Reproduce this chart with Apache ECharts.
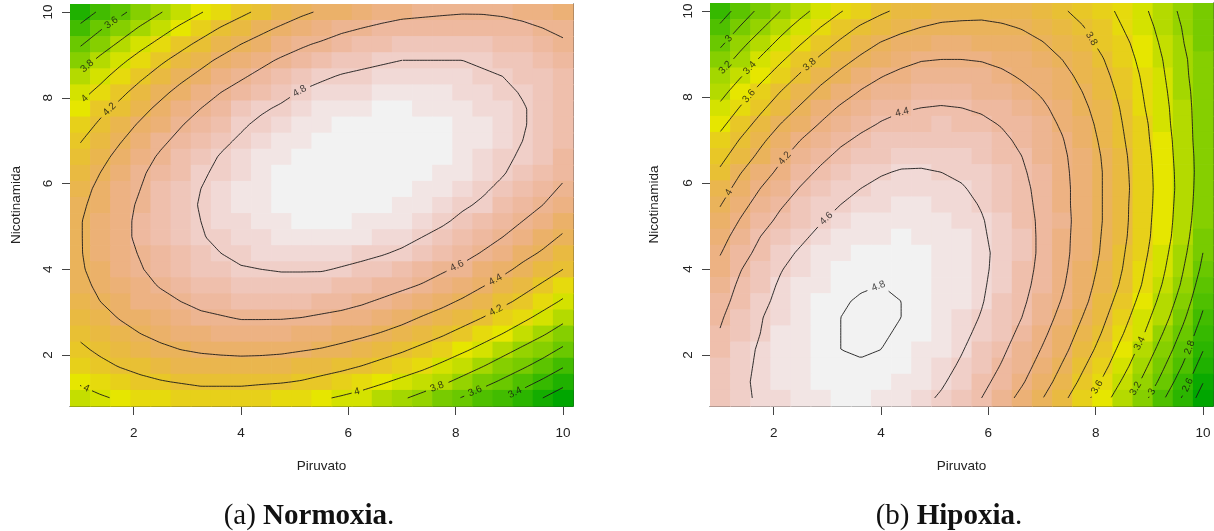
<!DOCTYPE html>
<html><head><meta charset="utf-8">
<script src="https://cdn.jsdelivr.net/npm/echarts@6/dist/echarts.min.js"></script>
<style>html,body{margin:0;padding:0;background:#fff;}#c{width:1214px;height:531px;}</style>
</head><body><div id="c"></div>
<script>
// ---------------- data ----------------
const piruvatoGrid = [1,1.375,1.75,2.125,2.5,2.875,3.25,3.625,4,4.375,4.75,5.125,5.5,5.875,6.25,6.625,7,7.375,7.75,8.125,8.5,8.875,9.25,9.625,10];
const nicotinamidaGrid = [10,9.625,9.25,8.875,8.5,8.125,7.75,7.375,7,6.625,6.25,5.875,5.5,5.125,4.75,4.375,4,3.625,3.25,2.875,2.5,2.125,1.75,1.375,1];
const axisTicks = [2,4,6,8,10];
// (a) Normoxia — one row per Nicotinamida value (top row = 10), one column per Piruvato value
const normoxiaRows = [
[3.29,3.43,3.56,3.68,3.79,3.90,3.99,4.08,4.16,4.24,4.31,4.37,4.42,4.46,4.50,4.53,4.56,4.57,4.58,4.59,4.59,4.58,4.56,4.54,4.51],
[3.44,3.58,3.70,3.82,3.93,4.03,4.12,4.21,4.29,4.36,4.42,4.48,4.52,4.57,4.60,4.63,4.65,4.66,4.67,4.67,4.66,4.65,4.63,4.60,4.57],
[3.58,3.71,3.83,3.95,4.05,4.15,4.24,4.32,4.40,4.46,4.52,4.58,4.62,4.66,4.69,4.71,4.73,4.74,4.74,4.74,4.73,4.71,4.69,4.66,4.62],
[3.71,3.84,3.96,4.07,4.17,4.26,4.35,4.43,4.50,4.56,4.62,4.66,4.70,4.74,4.76,4.78,4.80,4.80,4.80,4.80,4.78,4.76,4.73,4.70,4.66],
[3.83,3.95,4.07,4.17,4.27,4.36,4.44,4.52,4.58,4.64,4.70,4.74,4.78,4.81,4.83,4.85,4.86,4.86,4.85,4.84,4.82,4.80,4.77,4.73,4.69],
[3.94,4.05,4.16,4.27,4.36,4.45,4.53,4.60,4.66,4.72,4.76,4.81,4.84,4.86,4.88,4.90,4.90,4.90,4.89,4.88,4.86,4.83,4.79,4.75,4.71],
[4.03,4.15,4.25,4.35,4.44,4.52,4.60,4.67,4.73,4.78,4.82,4.86,4.89,4.91,4.93,4.94,4.94,4.93,4.92,4.90,4.88,4.84,4.81,4.76,4.71],
[4.11,4.23,4.33,4.42,4.51,4.59,4.66,4.72,4.78,4.83,4.87,4.90,4.93,4.95,4.96,4.96,4.96,4.95,4.94,4.92,4.89,4.85,4.81,4.76,4.71],
[4.19,4.29,4.39,4.48,4.57,4.64,4.71,4.77,4.82,4.87,4.90,4.93,4.96,4.97,4.98,4.98,4.98,4.96,4.94,4.92,4.89,4.85,4.80,4.75,4.69],
[4.25,4.35,4.45,4.54,4.62,4.69,4.75,4.81,4.86,4.90,4.93,4.96,4.97,4.99,4.99,4.99,4.98,4.96,4.94,4.91,4.87,4.83,4.78,4.73,4.67],
[4.30,4.40,4.49,4.58,4.65,4.72,4.78,4.83,4.88,4.91,4.94,4.97,4.98,4.99,4.99,4.98,4.97,4.95,4.92,4.89,4.85,4.81,4.75,4.69,4.63],
[4.34,4.44,4.52,4.60,4.68,4.74,4.80,4.85,4.89,4.92,4.95,4.97,4.98,4.98,4.98,4.97,4.95,4.93,4.90,4.86,4.82,4.77,4.71,4.65,4.58],
[4.37,4.46,4.55,4.62,4.69,4.75,4.81,4.85,4.89,4.92,4.94,4.96,4.96,4.96,4.96,4.94,4.92,4.90,4.86,4.82,4.78,4.72,4.66,4.60,4.53],
[4.39,4.48,4.56,4.63,4.70,4.75,4.80,4.84,4.88,4.90,4.92,4.94,4.94,4.94,4.93,4.91,4.89,4.86,4.82,4.77,4.72,4.67,4.60,4.53,4.46],
[4.39,4.48,4.56,4.63,4.69,4.74,4.79,4.83,4.86,4.88,4.90,4.90,4.90,4.90,4.89,4.86,4.84,4.80,4.76,4.71,4.66,4.60,4.53,4.46,4.38],
[4.39,4.47,4.55,4.61,4.67,4.72,4.77,4.80,4.83,4.85,4.86,4.86,4.85,4.85,4.83,4.81,4.78,4.74,4.70,4.65,4.59,4.52,4.45,4.38,4.29],
[4.38,4.46,4.53,4.59,4.65,4.69,4.73,4.76,4.79,4.80,4.81,4.81,4.81,4.79,4.77,4.74,4.71,4.67,4.62,4.57,4.51,4.44,4.36,4.28,4.20],
[4.36,4.43,4.50,4.56,4.61,4.65,4.69,4.72,4.74,4.75,4.75,4.75,4.74,4.72,4.70,4.67,4.63,4.59,4.54,4.48,4.41,4.34,4.26,4.18,4.09],
[4.32,4.40,4.46,4.52,4.56,4.60,4.64,4.66,4.68,4.69,4.69,4.68,4.67,4.65,4.62,4.58,4.54,4.50,4.44,4.38,4.31,4.24,4.16,4.07,3.98],
[4.28,4.35,4.41,4.46,4.51,4.54,4.57,4.59,4.61,4.61,4.61,4.60,4.58,4.56,4.53,4.49,4.45,4.39,4.34,4.27,4.20,4.12,4.04,3.95,3.85],
[4.23,4.30,4.35,4.40,4.44,4.48,4.50,4.52,4.53,4.53,4.52,4.51,4.49,4.46,4.43,4.39,4.34,4.28,4.22,4.15,4.08,4.00,3.91,3.82,3.72],
[4.17,4.23,4.28,4.33,4.37,4.40,4.42,4.43,4.44,4.44,4.43,4.41,4.39,4.36,4.32,4.27,4.22,4.16,4.10,4.03,3.95,3.86,3.77,3.68,3.57],
[4.10,4.16,4.21,4.25,4.28,4.31,4.33,4.34,4.34,4.33,4.32,4.30,4.28,4.24,4.20,4.15,4.10,4.04,3.97,3.89,3.81,3.72,3.63,3.53,3.42],
[4.02,4.07,4.12,4.16,4.19,4.21,4.23,4.23,4.23,4.22,4.21,4.19,4.15,4.12,4.07,4.02,3.96,3.90,3.83,3.75,3.66,3.57,3.47,3.37,3.26],
[3.93,3.98,4.02,4.06,4.09,4.10,4.12,4.12,4.12,4.10,4.08,4.06,4.02,3.98,3.94,3.88,3.82,3.75,3.67,3.59,3.50,3.41,3.31,3.20,3.09]];
// (b) Hipoxia
const hipoxiaRows = [
[2.70,2.88,3.05,3.20,3.34,3.47,3.59,3.69,3.77,3.84,3.89,3.93,3.94,3.95,3.94,3.92,3.87,3.82,3.75,3.66,3.56,3.44,3.30,3.16,3.00],
[2.83,3.01,3.17,3.33,3.47,3.60,3.72,3.82,3.90,3.96,4.00,4.03,4.04,4.04,4.02,3.99,3.94,3.88,3.81,3.71,3.60,3.48,3.34,3.19,3.03],
[2.96,3.14,3.30,3.45,3.59,3.72,3.83,3.93,4.01,4.06,4.10,4.12,4.12,4.11,4.09,4.06,4.01,3.94,3.86,3.76,3.65,3.52,3.37,3.21,3.05],
[3.09,3.26,3.42,3.57,3.71,3.83,3.94,4.03,4.10,4.15,4.19,4.20,4.20,4.19,4.16,4.12,4.07,4.00,3.91,3.81,3.69,3.55,3.40,3.24,3.07],
[3.22,3.38,3.54,3.69,3.82,3.94,4.04,4.13,4.19,4.24,4.27,4.28,4.27,4.26,4.23,4.18,4.13,4.05,3.96,3.85,3.72,3.58,3.42,3.25,3.08],
[3.33,3.50,3.66,3.80,3.92,4.04,4.13,4.21,4.27,4.31,4.34,4.34,4.34,4.32,4.29,4.24,4.18,4.10,4.00,3.89,3.75,3.60,3.44,3.27,3.09],
[3.44,3.61,3.76,3.90,4.02,4.13,4.22,4.29,4.35,4.38,4.40,4.41,4.40,4.38,4.34,4.29,4.23,4.14,4.04,3.92,3.78,3.62,3.46,3.28,3.10],
[3.55,3.71,3.86,4.00,4.11,4.21,4.30,4.36,4.41,4.45,4.46,4.47,4.45,4.43,4.39,4.33,4.26,4.18,4.07,3.95,3.80,3.65,3.47,3.29,3.10],
[3.65,3.81,3.96,4.09,4.20,4.29,4.37,4.43,4.48,4.50,4.52,4.52,4.50,4.47,4.43,4.37,4.30,4.21,4.10,3.97,3.82,3.66,3.49,3.30,3.10],
[3.74,3.90,4.04,4.17,4.27,4.36,4.44,4.49,4.53,4.56,4.57,4.56,4.54,4.51,4.46,4.40,4.32,4.23,4.12,3.99,3.84,3.68,3.50,3.31,3.11],
[3.83,3.99,4.12,4.24,4.34,4.43,4.50,4.55,4.59,4.61,4.61,4.60,4.58,4.54,4.49,4.42,4.34,4.24,4.13,4.00,3.85,3.69,3.51,3.32,3.11],
[3.91,4.07,4.20,4.31,4.41,4.49,4.55,4.60,4.63,4.65,4.65,4.64,4.61,4.57,4.51,4.44,4.35,4.25,4.13,4.00,3.86,3.69,3.52,3.32,3.10],
[3.99,4.14,4.27,4.38,4.47,4.54,4.60,4.65,4.67,4.69,4.69,4.67,4.64,4.59,4.53,4.45,4.36,4.25,4.13,4.00,3.85,3.69,3.51,3.31,3.09],
[4.06,4.21,4.33,4.44,4.52,4.59,4.65,4.69,4.71,4.72,4.72,4.70,4.66,4.61,4.54,4.46,4.37,4.26,4.13,4.00,3.85,3.68,3.50,3.30,3.07],
[4.13,4.28,4.40,4.49,4.57,4.64,4.69,4.72,4.74,4.75,4.74,4.72,4.68,4.62,4.55,4.47,4.37,4.25,4.13,3.99,3.84,3.67,3.49,3.28,3.04],
[4.19,4.33,4.45,4.55,4.62,4.68,4.72,4.75,4.77,4.77,4.76,4.73,4.69,4.63,4.56,4.47,4.37,4.25,4.12,3.98,3.82,3.65,3.46,3.25,3.00],
[4.25,4.39,4.50,4.59,4.66,4.71,4.75,4.77,4.79,4.78,4.77,4.74,4.69,4.63,4.55,4.46,4.36,4.24,4.10,3.96,3.80,3.62,3.43,3.21,2.96],
[4.30,4.43,4.53,4.62,4.69,4.74,4.77,4.79,4.80,4.79,4.77,4.74,4.69,4.62,4.54,4.45,4.34,4.22,4.08,3.93,3.77,3.59,3.39,3.17,2.90],
[4.34,4.46,4.56,4.64,4.71,4.75,4.79,4.81,4.81,4.80,4.77,4.73,4.68,4.61,4.52,4.43,4.31,4.19,4.05,3.89,3.72,3.54,3.34,3.11,2.84],
[4.38,4.49,4.59,4.66,4.72,4.77,4.80,4.81,4.81,4.80,4.77,4.72,4.66,4.59,4.50,4.40,4.28,4.15,4.00,3.84,3.67,3.48,3.28,3.04,2.77],
[4.41,4.51,4.60,4.68,4.73,4.77,4.80,4.81,4.81,4.79,4.75,4.70,4.64,4.56,4.47,4.36,4.24,4.10,3.95,3.79,3.61,3.42,3.20,2.96,2.69],
[4.44,4.54,4.62,4.69,4.74,4.78,4.80,4.81,4.80,4.77,4.74,4.68,4.61,4.53,4.43,4.32,4.19,4.05,3.90,3.73,3.54,3.34,3.12,2.88,2.61],
[4.47,4.55,4.63,4.69,4.74,4.77,4.79,4.79,4.78,4.75,4.71,4.65,4.58,4.49,4.39,4.27,4.14,3.99,3.83,3.66,3.47,3.26,3.03,2.79,2.51],
[4.50,4.57,4.63,4.68,4.73,4.76,4.78,4.77,4.76,4.73,4.68,4.62,4.54,4.45,4.34,4.22,4.08,3.93,3.76,3.58,3.38,3.17,2.94,2.69,2.41],
[4.52,4.57,4.62,4.67,4.71,4.74,4.75,4.75,4.73,4.69,4.64,4.58,4.49,4.40,4.28,4.15,4.01,3.85,3.68,3.49,3.28,3.07,2.83,2.58,2.30]];
const contourLevels = [2.2,2.4,2.6,2.8,3.0,3.2,3.4,3.6,3.8,4.0,4.2,4.4,4.6,4.8];
// contour label anchors [level, Piruvato, Nicotinamida]
const labelsNormoxia = [[3.6,1.59,9.74],[3.8,1.14,8.73],[4,1.09,7.98],[4.2,1.59,7.68],[4.8,5.13,8.07],[4,1.10,1.17],[4.6,8.05,4.02],[4.4,8.77,3.70],[4.2,8.77,3.0],[4,6.16,1.15],[3.8,7.65,1.26],[3.6,8.36,1.16],[3.4,9.10,1.14]];
const labelsHipoxia = [[3,1.15,9.37],[3.2,1.11,8.67],[3.4,1.56,8.67],[3.6,1.56,8.0],[3.8,2.68,8.74],[4,1.15,5.79],[4.2,2.25,6.53],[4.4,4.41,7.56],[4.6,2.97,5.19],[4.8,3.98,3.51],[3.8,7.89,9.33],[3.6,8.02,1.26],[3.4,8.77,2.30],[3.2,8.73,1.23],[3,9.05,1.14],[2.8,9.72,2.19],[2.6,9.72,1.30]];

// ---------------- helpers ----------------
function hsv(h,s,v){const i=Math.floor(h*6+1e-9),f=h*6-i,p=v*(1-s),q=v*(1-f*s),t=v*(1-(1-f)*s);let r,g,b;switch(((i%6)+6)%6){case 0:r=v;g=t;b=p;break;case 1:r=q;g=v;b=p;break;case 2:r=p;g=v;b=t;break;case 3:r=p;g=q;b=v;break;case 4:r=t;g=p;b=v;break;default:r=v;g=p;b=q;}
 return 'rgb('+Math.round(r*255)+','+Math.round(g*255)+','+Math.round(b*255)+')';}
function seq(a,b,n){if(n<=1)return[a];const r=[];for(let i=0;i<n;i++)r.push(a+(b-a)*i/(n-1));return r;}
function terrain(n){const k=Math.floor(n/2);const h1=seq(4/12,2/12,k),v1=seq(0.65,0.9,k);const m=n-k+1;const h2=seq(2/12,0,m).slice(1),s2=seq(1,0,m).slice(1),v2=seq(0.9,0.95,m).slice(1);
 const c=[];for(let i=0;i<k;i++)c.push(hsv(h1[i],1,v1[i]));for(let i=0;i<m-1;i++)c.push(hsv(h2[i],s2[i],v2[i]));return c;}
function pieces(Z,n){let lo=Infinity,hi=-Infinity;Z.forEach(r=>r.forEach(v=>{lo=Math.min(lo,v);hi=Math.max(hi,v);}));const cols=terrain(n);const br=seq(lo,hi,n+1);
 return cols.map((c,i)=>{const p={color:c};if(i>0)p.gte=br[i];if(i<n-1)p.lt=br[i+1];return p;});}
function contourLines(xs,ys,Z,level){const pt={},adj={};const nx=xs.length,ny=ys.length;const st=(v)=>v>=level;
 function ep(key,x1,y1,z1,x2,y2,z2){if(!pt[key]){const t=(level-z1)/(z2-z1);pt[key]=[x1+t*(x2-x1),y1+t*(y2-y1)];}return key;}
 function link(a,b){(adj[a]=adj[a]||[]).push(b);(adj[b]=adj[b]||[]).push(a);}
 for(let j=0;j<ny-1;j++)for(let i=0;i<nx-1;i++){const z00=Z[j][i],z10=Z[j][i+1],z11=Z[j+1][i+1],z01=Z[j+1][i];const s00=st(z00),s10=st(z10),s11=st(z11),s01=st(z01);const E={};
  if(s00!==s10)E.b=ep('h'+i+'_'+j,xs[i],ys[j],z00,xs[i+1],ys[j],z10);if(s10!==s11)E.r=ep('v'+(i+1)+'_'+j,xs[i+1],ys[j],z10,xs[i+1],ys[j+1],z11);
  if(s01!==s11)E.t=ep('h'+i+'_'+(j+1),xs[i],ys[j+1],z01,xs[i+1],ys[j+1],z11);if(s00!==s01)E.l=ep('v'+i+'_'+j,xs[i],ys[j],z00,xs[i],ys[j+1],z01);
  const ks=Object.keys(E);if(ks.length===2)link(E[ks[0]],E[ks[1]]);else if(ks.length===4){const sc=st((z00+z10+z11+z01)/4);if(s00!==sc)link(E.b,E.l);if(s10!==sc)link(E.b,E.r);if(s11!==sc)link(E.r,E.t);if(s01!==sc)link(E.t,E.l);}}
 const used={};const lines=[];function walk(start){const line=[pt[start]];used[start]=1;let cur=start;while(true){const nb=(adj[cur]||[]).find(k=>!used[k]);if(!nb)break;used[nb]=1;line.push(pt[nb]);cur=nb;}
  if(line.length>2&&(adj[cur]||[]).includes(start))line.push(pt[start]);return line;}
 Object.keys(adj).forEach(k=>{if(!used[k]&&adj[k].length===1)lines.push(walk(k));});Object.keys(adj).forEach(k=>{if(!used[k])lines.push(walk(k));});return lines;}
function buildPanel(xs,ys,Z,labels,sx,sy){
 const lines=[];contourLevels.forEach(lv=>{contourLines(xs,ys,Z,lv).forEach(l=>lines.push({lv,pts:l}));});
 const labs=[];const cuts=[];
 labels.forEach(([lv,lx,ly])=>{let best=null;
  lines.forEach(L=>{if(Math.abs(L.lv-lv)>1e-6)return;for(let k=0;k<L.pts.length-1;k++){const a=L.pts[k],b=L.pts[k+1];
   const ax=a[0]*sx,ay=a[1]*sy,bx=b[0]*sx,by=b[1]*sy,px=lx*sx,py=ly*sy;const dx=bx-ax,dy=by-ay;const len2=dx*dx+dy*dy||1e-9;
   let t=((px-ax)*dx+(py-ay)*dy)/len2;t=Math.max(0,Math.min(1,t));const qx=ax+t*dx,qy=ay+t*dy;const d=Math.hypot(px-qx,py-qy);
   if(!best||d<best.d)best={d,x:qx/sx,y:qy/sy,ang:Math.atan2(dy,dx)*180/Math.PI};}});
  if(!best)return;let ang=best.ang;if(ang>90)ang-=180;if(ang<-90)ang+=180;
  const txt=String(Math.round(lv*10)/10);const r=txt.length*2.9+2.5;
  labs.push({value:[best.x,best.y],label:{rotate:ang,formatter:txt}});cuts.push({lv,x:best.x*sx,y:best.y*sy,r});});
 const out=[];
 lines.forEach(L=>{const myCuts=cuts.filter(c=>Math.abs(c.lv-L.lv)<1e-6);
  if(!myCuts.length){out.push(L.pts);return;}
  const inside=(p)=>myCuts.some(c=>Math.hypot(p[0]*sx-c.x,p[1]*sy-c.y)<c.r);
  let cur=[];if(!inside(L.pts[0]))cur.push(L.pts[0]);
  for(let k=0;k<L.pts.length-1;k++){const a=L.pts[k],b=L.pts[k+1];const N=Math.max(1,Math.ceil(Math.hypot((b[0]-a[0])*sx,(b[1]-a[1])*sy)/0.7));
   for(let s=1;s<=N;s++){const p=[a[0]+(b[0]-a[0])*s/N,a[1]+(b[1]-a[1])*s/N];
    if(inside(p)){if(cur.length>1)out.push(cur);cur=[];}else cur.push(p);}}
  if(cur.length>1)out.push(cur);});
 return {lines:out,labs};}
function cells(Z){const d=[];Z.forEach((row,j)=>row.forEach((v,i)=>d.push([piruvatoGrid[i],nicotinamidaGrid[j],v])));return d;}

// ---------------- chart ----------------
const pA=buildPanel(piruvatoGrid,nicotinamidaGrid,normoxiaRows,labelsNormoxia,53.66,42.95);
const pB=buildPanel(piruvatoGrid,nicotinamidaGrid,hipoxiaRows,labelsHipoxia,53.7,43.0);
const font='"Liberation Sans",Arial,sans-serif';
function axes(gi,nameGap){const common={type:'value',min:0.8125,max:10.1875,gridIndex:gi,splitLine:{show:false}};
 return {x:Object.assign({},common,{position:'bottom',name:'Piruvato',nameLocation:'middle',nameGap:53,nameTextStyle:{fontFamily:font,fontSize:13.5,color:'#222'},
   axisLine:{show:true,onZero:false,lineStyle:{color:'#333',width:1}},axisTick:{show:true,length:9,lineStyle:{color:'#444'},customValues:axisTicks},
   axisLabel:{margin:20,fontFamily:font,fontSize:13.5,color:'#222',customValues:axisTicks}}),
  y:[Object.assign({},common,{position:'left',name:'Nicotinamida',nameLocation:'middle',nameGap:nameGap,nameRotate:90,nameTextStyle:{fontFamily:font,fontSize:13.5,color:'#222'},
   axisLine:{show:false},axisTick:{show:true,length:8,lineStyle:{color:'#444'},customValues:axisTicks},
   axisLabel:{rotate:90,margin:15,fontFamily:font,fontSize:13.5,color:'#222',customValues:axisTicks}}),
   Object.assign({},common,{position:'right',axisLine:{show:true,lineStyle:{color:'#333',width:1}},axisTick:{show:false},axisLabel:{show:false}})]};}
const axA=axes(0,47),axB=axes(1,49);
function cellSeries(Z,xi,yi){return {type:'custom',xAxisIndex:xi,yAxisIndex:yi,silent:true,animation:false,data:cells(Z),encode:{x:0,y:1},
 renderItem:(params,api)=>{const x=api.value(0),y=api.value(1),h=0.1875;const p0=api.coord([x-h,y+h]),p1=api.coord([x+h,y-h]);
  return {type:'rect',shape:{x:p0[0],y:p0[1],width:p1[0]-p0[0]+0.7,height:p1[1]-p0[1]+0.7},style:{fill:api.visual('color')}};}};}
function lineSeries(lines,xi,yi){return lines.map(l=>({type:'line',xAxisIndex:xi,yAxisIndex:yi,data:l,showSymbol:false,symbol:'none',silent:true,animation:false,z:3,
 lineStyle:{color:'#1a1a1a',width:0.9}}));}
function labelSeries(labs,xi,yi){return {type:'scatter',xAxisIndex:xi,yAxisIndex:yi,data:labs,symbolSize:0,silent:true,animation:false,z:4,
 label:{show:true,position:'inside',fontFamily:font,fontSize:10,color:'#111'}};}
const capRich={n:{fontFamily:'"Liberation Serif",serif',fontSize:29,fontWeight:'normal',color:'#111'},b:{fontFamily:'"Liberation Serif",serif',fontSize:29,fontWeight:'bold',color:'#111'}};
const chart=echarts.init(document.getElementById('c'),null,{renderer:'canvas'});
chart.setOption({animation:false,backgroundColor:'#fff',
 grid:[{left:70,top:4,width:503,height:402,containLabel:false,outerBoundsMode:'none'},{left:710,top:3,width:503,height:403,containLabel:false,outerBoundsMode:'none'}],
 xAxis:[axA.x,axB.x],
 yAxis:[axA.y[0],axA.y[1],axB.y[0],axB.y[1]],
 visualMap:[{type:'piecewise',show:false,dimension:2,seriesIndex:0,pieces:pieces(normoxiaRows,36)},{type:'piecewise',show:false,dimension:2,seriesIndex:1,pieces:pieces(hipoxiaRows,36)}],
 title:[{text:'{n|(a) }{b|Normoxia}{n|.}',left:304,top:497,textAlign:'center',textStyle:{rich:capRich}},
  {text:'{n|(b) }{b|Hipoxia}{n|.}',left:944,top:497,textAlign:'center',textStyle:{rich:capRich}}],
 series:[cellSeries(normoxiaRows,0,0),cellSeries(hipoxiaRows,1,2)].concat(lineSeries(pA.lines,0,0),lineSeries(pB.lines,1,2),[labelSeries(pA.labs,0,0),labelSeries(pB.labs,1,2)])});
</script></body></html>
